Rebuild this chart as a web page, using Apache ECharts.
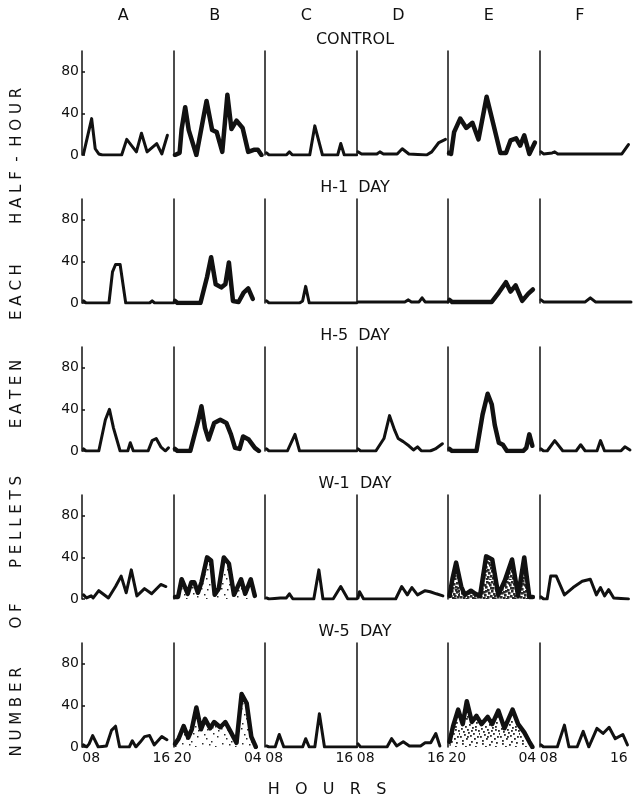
<!DOCTYPE html>
<html>
<head>
<meta charset="utf-8">
<script src="https://cdn.jsdelivr.net/npm/echarts@6/dist/echarts.min.js"></script>
<style>
html, body { margin: 0; padding: 0; background: #fff; }
#main { width: 637px; height: 807px; }
</style>
</head>
<body>
<div id="main"></div>
<script>
// columns, rows and tick labels
var columns = ['A', 'B', 'C', 'D', 'E', 'F'];
var rowTitles = ['CONTROL', 'H-1  DAY', 'H-5  DAY', 'W-1  DAY', 'W-5  DAY'];
var hourLabels = [['08', '16'], ['20', '04'], ['08', '16'], ['08', '16'], ['20', '04'], ['08', '16']];
var hourTicks = [1.8, 15.6];   // x in half-hour steps from panel start
var yTicks = [0, 40, 80];

// pellets per half-hour, [half-hour index, count], one array per column
var control = [
    [[0.3,1],[1.9,35],[2.6,6],[3.3,1],[4,0],[7.8,0],[8.8,15],[10.7,3],[11.7,21],[12.8,3],[14.7,11],[15.7,1],[16.8,19]],
    [[0.3,0],[1.2,2],[1.6,25],[2.3,46],[3,24],[4.5,0],[6.5,52],[7.6,24],[8.5,22],[9.6,3],[10.6,58],[11.4,25],[12.4,33],[13.6,26],[14.7,3],[15.8,5],[16.6,5],[17.3,0]],
    [[0.3,2],[0.8,0],[4.2,0],[4.8,3],[5.4,0],[8.8,0],[9.8,28],[11.3,0],[14.3,0],[14.9,11],[15.6,0],[18,0]],
    [[0.3,3],[1,1],[4,1],[4.6,3],[5.3,1],[8,1],[9,6],[10.3,1],[13.8,0],[14.8,3],[16.2,12],[17.5,15]],
    [[0.2,2],[0.6,1],[1.2,22],[2.4,35],[3.6,26],[4.8,31],[6,15],[7.6,56],[8.9,30],[10.3,2],[11.4,2],[12.3,14],[13.4,16],[14.2,9],[15,19],[16,1],[17.1,12]],
    [[0.3,3],[0.8,1],[2.5,2],[3,3],[3.6,1],[16.2,1],[17.5,10]]
];
var h1Day = [
    [[0.3,2],[0.8,0],[5.3,0],[6,30],[6.6,37],[7.5,37],[8.6,0],[13.3,0],[13.8,2],[14.3,0],[18,0]],
    [[0.3,2],[0.8,0],[5.3,0],[6.6,25],[7.4,44],[8.3,18],[9.4,15],[10.2,18],[10.9,39],[11.7,2],[12.8,1],[13.8,10],[14.7,14],[15.6,4]],
    [[0.3,2],[0.8,0],[6.8,0],[7.4,2],[8,16],[8.7,0],[18,0]],
    [[0.3,1],[9.5,1],[10.2,3],[10.8,1],[12.3,1],[12.9,5],[13.5,1],[18,1]],
    [[0.3,3],[0.8,1],[8.6,1],[10,10],[11.4,20],[12.3,11],[13.3,17],[14.6,2],[15.8,9],[16.7,13]],
    [[0.3,3],[0.8,1],[9,1],[10,5],[11,1],[18,1]]
];
var h5Day = [
    [[0.3,2],[0.8,0],[3.3,0],[4.6,30],[5.4,40],[6.2,22],[7.5,0],[9,0],[9.5,8],[10.1,0],[13,0],[13.8,10],[14.6,12],[15.5,4],[16.4,0],[17,3]],
    [[0.3,2],[0.8,0],[3.3,0],[4.8,28],[5.5,43],[6.2,22],[6.9,11],[8,27],[9.2,30],[10.4,27],[11.3,16],[12.1,3],[13,2],[13.7,14],[14.8,11],[16,3],[16.8,0]],
    [[0.3,2],[0.8,0],[4.4,0],[5.9,16],[6.8,0],[18,0]],
    [[0.3,2],[0.8,0],[3.8,0],[5.4,12],[6.5,34],[7.5,20],[8.2,12],[9.2,9],[10.3,5],[11.2,1],[12,4],[12.8,0],[14.5,0],[15.5,2],[16.9,7]],
    [[0.3,2],[0.8,0],[5.6,0],[6.8,35],[7.8,55],[8.6,45],[9.2,25],[10,8],[10.8,6],[11.6,0],[14.8,0],[15.4,3],[16,16],[16.6,5]],
    [[0.3,2],[0.8,0],[1.5,0],[3,10],[4.6,0],[7.2,0],[8.1,6],[9,0],[11.3,0],[12,10],[12.8,0],[16,0],[16.8,4],[17.8,1]]
];
var w1Day = [
    [[0.3,4],[0.9,1],[1.8,3],[2.2,1],[3.3,8],[5.2,1],[6.6,12],[7.7,22],[8.7,6],[9.7,28],[10.8,3],[12.3,10],[13.7,5],[15.5,14],[16.5,12]],
    [[0.3,2],[0.9,2],[1.6,19],[2.8,5],[3.5,16],[4.1,16],[4.8,6],[5.5,16],[6.6,40],[7.4,37],[8.1,4],[8.9,10],[9.9,40],[10.9,34],[11.9,4],[13.3,19],[14.1,5],[15.2,19],[16,3]],
    [[0.3,1],[0.8,0],[3,1],[4.2,1],[4.8,5],[5.5,0],[9.6,0],[10.6,28],[11.4,0],[13.4,0],[14.9,12],[16.3,0],[18,0]],
    [[0.3,1],[0.6,7],[1.4,0],[7.7,0],[8.9,12],[10,4],[10.9,11],[12,4],[13.5,8],[14.5,7],[15.7,5],[17,3]],
    [[0.3,3],[0.9,20],[1.6,35],[2.6,12],[3.3,4],[4.5,8],[5.4,5],[6.3,3],[7.5,41],[8.7,38],[9.9,4],[11.2,18],[12.6,38],[13.8,3],[15,40],[16,2],[16.7,2]],
    [[0.3,2],[0.8,0],[1.5,0],[2.2,22],[3.3,22],[4.9,4],[6.6,11],[8.4,17],[10,19],[11.2,4],[12,11],[12.8,3],[13.6,9],[14.6,1],[17.5,0]]
];
var w5Day = [
    [[0.3,2],[0.9,0],[1.4,3],[2.1,11],[3.2,0],[4.8,1],[5.8,16],[6.6,20],[7.4,0],[9.3,0],[9.9,6],[10.6,0],[11.5,5],[12.3,10],[13.3,11],[14.2,2],[15.7,10],[16.7,7]],
    [[0.3,3],[1,8],[2,20],[2.9,9],[3.6,17],[4.5,38],[5.4,17],[6.2,27],[7.2,18],[8,24],[9.2,19],[10.2,24],[11.2,15],[12.4,4],[13.4,51],[14.4,42],[15.3,10],[16.2,0]],
    [[0.3,1],[0.8,0],[2,0],[2.8,12],[3.7,0],[7.4,0],[8,8],[8.7,0],[9.8,0],[10.7,32],[11.7,0],[18,0]],
    [[0.3,3],[0.8,0],[6,0],[6.9,8],[7.9,1],[9.2,5],[10.4,1],[12.6,1],[13.5,4],[14.6,4],[15.6,13],[16.4,1]],
    [[0.3,5],[1,20],[2,36],[2.9,22],[3.7,44],[4.7,24],[5.6,30],[6.6,22],[7.8,29],[8.7,22],[9.9,35],[11.1,18],[12.7,36],[13.8,22],[15,14],[16,5],[16.6,0]],
    [[0.3,2],[0.8,0],[2.5,0],[3.5,0],[4.9,21],[5.8,0],[7.4,0],[8.6,15],[9.7,0],[11.3,18],[12.5,13],[13.7,19],[14.9,8],[16.4,12],[17.3,2]]
];
var allRows = [control, h1Day, h5Day, w1Day, w5Day];

// panels with stippled fill under the curve: [row, col, dots per tile, dot size]
var stippled = [[3, 1, 12, 1.5], [3, 4, 40, 2.6], [4, 1, 12, 1.5], [4, 4, 24, 1.8]];

var left0 = 82, panelW = 91.5, zero0 = 155, rowStep = 148, plotH = 104;
var font = 'DejaVu Sans';

// scattered dot tile, fixed positions so the texture looks like print stipple
var dotPos = [[2,3],[11,1],[7,9],[15,6],[4,14],[13,13],[9,4],[1,8],[17,16],[6,18],[12,7],[18,10],[3,11],[10,15],[16,2],[8,12],
    [14,18],[5,6],[0,16],[19,13],[11,10],[2,0],[7,16],[15,9],[4,4],[13,3],[9,19],[17,7],[1,12],[12,17],[6,1],[18,14],
    [3,17],[10,7],[16,11],[8,2],[14,15],[5,10],[0,5],[19,0]];
function stipple(n, size) {
    var c = document.createElement('canvas');
    c.width = 20; c.height = 20;
    var g = c.getContext('2d');
    g.fillStyle = '#2a2a2a';
    for (var i = 0; i < n; i++) g.fillRect(dotPos[i][0], dotPos[i][1], size, size);
    return c;
}

var myChart = echarts.init(document.getElementById('main'));
var grids = [], xAxes = [], yAxes = [], series = [];

for (var r = 0; r < allRows.length; r++) {
    for (var c = 0; c < columns.length; c++) {
        var k = grids.length;
        var heavy = (c === 1 || c === 4);
        grids.push({ left: left0 + panelW * c, top: zero0 + rowStep * r - plotH, width: panelW, height: plotH });
        (function (c, r) {
            xAxes.push({
                gridIndex: k, type: 'value', min: 0, max: 18,
                axisLine: { show: false }, axisTick: { show: false }, splitLine: { show: false },
                axisLabel: {
                    show: r === allRows.length - 1, customValues: hourTicks,
                    margin: 4, color: '#111', fontFamily: font, fontSize: 14,
                    formatter: function (v) { return hourLabels[c][hourTicks.indexOf(v)]; }
                }
            });
        })(c, r);
        yAxes.push({
            gridIndex: k, type: 'value', min: 0, max: 100,
            axisLine: { show: true, lineStyle: { color: '#111', width: 1.5 } },
            axisTick: { show: c === 0, inside: true, length: 3, customValues: yTicks, lineStyle: { color: '#111', width: 1.5 } },
            axisLabel: { show: c === 0, customValues: yTicks, margin: 3, color: '#111', fontFamily: font, fontSize: 14 },
            splitLine: { show: false }
        });
        var s = {
            type: 'line', xAxisIndex: k, yAxisIndex: k,
            data: allRows[r][c], showSymbol: false, silent: true,
            lineStyle: { color: '#111', width: heavy ? 4.5 : 3, join: 'round', cap: 'round' }
        };
        stippled.forEach(function (p) {
            if (p[0] === r && p[1] === c) s.areaStyle = { color: { image: stipple(p[2], p[3]), repeat: 'repeat' }, opacity: 1 };
        });
        series.push(s);
    }
}

var graphic = [];
columns.forEach(function (name, c) {
    graphic.push({ type: 'text', left: left0 + panelW * c + panelW / 2 - 10, top: 8,
        style: { text: name, font: '16px ' + font, fill: '#111' } });
});
rowTitles.forEach(function (t, r) {
    graphic.push({ type: 'text', x: 355, y: zero0 + rowStep * r - 115,
        style: { text: t, font: '16px ' + font, fill: '#111', align: 'center', verticalAlign: 'middle' } });
});
var yWords = [['H A L F  -  H O U R', 156], ['E A C H', 292], ['E A T E N', 394], ['P E L L E T S', 522], ['O F', 616], ['N U M B E R', 712]];
yWords.forEach(function (w) {
    graphic.push({ type: 'text', x: 17, y: w[1], rotation: Math.PI / 2,
        style: { text: w[0], font: '15px ' + font, fill: '#111', align: 'center', verticalAlign: 'middle' } });
});
graphic.push({ type: 'text', x: 327, y: 790,
    style: { text: 'H   O   U   R   S', font: '16px ' + font, fill: '#111', align: 'center', verticalAlign: 'middle' } });

var option = {
    backgroundColor: '#fff',
    animation: false,
    grid: grids,
    xAxis: xAxes,
    yAxis: yAxes,
    series: series,
    graphic: graphic
};
myChart.setOption(option);
</script>
</body>
</html>
